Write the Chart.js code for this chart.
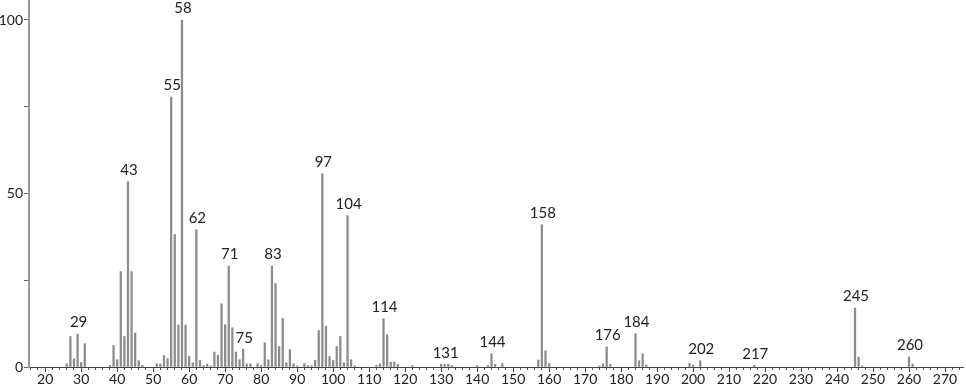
<!DOCTYPE html>
<html>
<head>
<meta charset="utf-8">
<script src="https://cdn.jsdelivr.net/npm/chart.js@4/dist/chart.umd.min.js"></script>
<style>
  html, body { margin: 0; padding: 0; background: #fff; }
  #wrap { width: 966px; height: 389px; }
</style>
</head>
<body>
<div id="wrap"><canvas id="chart" width="966" height="389"></canvas></div>
<script>
// m/z values and relative intensities
const masses = [26, 27, 28, 29, 30, 31, 38, 39, 40, 41, 42, 43, 44, 45, 46, 47,
  51, 52, 53, 54, 55, 56, 57, 58, 59, 60, 61, 62, 63, 64, 65, 66, 67, 68, 69, 70,
  71, 72, 73, 74, 75, 76, 77, 79, 80, 81, 82, 83, 84, 85, 86, 87, 88, 89, 90, 92,
  93, 94, 95, 96, 97, 98, 99, 100, 101, 102, 103, 104, 105, 106, 112, 113, 114,
  115, 116, 117, 118, 122, 130, 131, 132, 133, 140, 143, 144, 145, 147, 157, 158,
  159, 160, 174, 175, 176, 177, 184, 185, 186, 187, 199, 200, 202, 217, 245, 246,
  247, 260, 261];
const intensities = [0.9, 8.8, 2.4, 9.5, 1.3, 6.7, 0.5, 6.2, 2.1, 27.5, 8.8, 53.4, 27.5, 9.8, 1.8, 0.5,
  0.9, 0.9, 3.3, 2.4, 77.8, 38.2, 12.1, 100, 12.1, 3.1, 1.2, 39.6, 1.9, 0.4, 0.8, 0.3, 4.3, 3.4, 18.2, 12.2,
  29.1, 11.3, 4.3, 2.1, 5.1, 0.9, 0.9, 0.9, 0.4, 7.0, 2.1, 29.1, 24.0, 5.9, 14.0, 1.2, 5.0, 0.9, 0.3, 1.0,
  0.4, 0.4, 1.9, 10.5, 55.7, 11.7, 3.0, 1.9, 5.9, 8.8, 1.2, 43.6, 2.1, 0.3, 0.5, 0.9, 13.9,
  9.3, 1.4, 1.4, 0.8, 0.4, 0.8, 0.8, 0.8, 0.4, 0.4, 0.4, 3.8, 0.8, 1.0, 2.0, 41.0,
  4.7, 1.0, 0.3, 0.9, 5.8, 0.8, 9.6, 1.8, 3.8, 0.6, 1.0, 0.5, 1.8, 0.5, 17.0, 2.8,
  0.3, 2.9, 0.9];
const labelledPeaks = [29, 43, 55, 58, 62, 71, 75, 83, 97, 104, 114, 131, 144, 158, 176, 184, 202, 217, 245, 260];
const yTicks = [0, 25, 50, 75, 100];
const yLabels = [0, 50, 100];

const FONT = "Lato, 'DejaVu Sans', sans-serif";

// peak labels above the bars + longer marks at the labelled x ticks
const peakLabels = {
  id: 'peakLabels',
  afterDatasetsDraw(chart) {
    const ctx = chart.ctx;
    const xs = chart.scales.x, ys = chart.scales.y;
    ctx.save();
    ctx.font = '15px ' + FONT;
    ctx.fillStyle = '#222';
    ctx.textAlign = 'center';
    ctx.textBaseline = 'bottom';
    labelledPeaks.forEach(m => {
      const i = masses.indexOf(m);
      if (i < 0) return;
      ctx.fillText(String(m), xs.getPixelForValue(m) + 1, ys.getPixelForValue(intensities[i]) - 4);
    });
    ctx.strokeStyle = '#444';
    ctx.lineWidth = 1;
    const base = ys.getPixelForValue(0);
    for (let v = 20; v <= 270; v += 10) {
      const px = Math.round(xs.getPixelForValue(v)) + 0.5;
      ctx.beginPath();
      ctx.moveTo(px, base);
      ctx.lineTo(px, base + 5);
      ctx.stroke();
    }
    ctx.restore();
  }
};

new Chart(document.getElementById('chart'), {
  type: 'bar',
  data: {
    datasets: [{
      data: masses.map((m, i) => ({ x: m, y: intensities[i] })),
      backgroundColor: '#8c8c8c',
      barThickness: 1.6,
      borderWidth: 0
    }]
  },
  options: {
    responsive: false,
    animation: false,
    events: [],
    layout: { padding: { left: 0, right: 3, top: 0, bottom: 0 } },
    plugins: { legend: { display: false }, tooltip: { enabled: false } },
    scales: {
      x: {
        type: 'linear',
        offset: false,
        min: 15.5,
        max: 275,
        afterBuildTicks(scale) {
          const t = [];
          for (let v = 16; v <= 274; v += 2) t.push({ value: v });
          scale.ticks = t;
        },
        afterFit(scale) {
          scale.height = 22;
          scale.paddingLeft = 0;
          scale.paddingRight = 0;
        },
        border: { display: true, color: '#444', width: 1 },
        grid: { offset: false, drawOnChartArea: false, drawTicks: true, tickLength: 3, color: '#555' },
        ticks: {
          autoSkip: false,
          maxRotation: 0,
          padding: 1,
          color: '#222',
          font: { family: FONT, size: 14 },
          callback: v => (v % 10 === 0 ? String(v) : '')
        }
      },
      y: {
        min: 0,
        max: 105.76,
        afterBuildTicks(scale) {
          scale.ticks = yTicks.map(v => ({ value: v }));
        },
        afterFit(scale) {
          scale.width = 29;
          scale.paddingTop = 0;
          scale.paddingBottom = 0;
        },
        border: { display: true, color: '#999', width: 2 },
        grid: { drawOnChartArea: false, drawTicks: true, tickLength: 5, color: '#666' },
        ticks: {
          padding: 1,
          color: '#222',
          font: { family: FONT, size: 14 },
          callback: v => (yLabels.includes(v) ? String(v) : '')
        }
      }
    }
  },
  plugins: [peakLabels]
});
</script>
</body>
</html>
